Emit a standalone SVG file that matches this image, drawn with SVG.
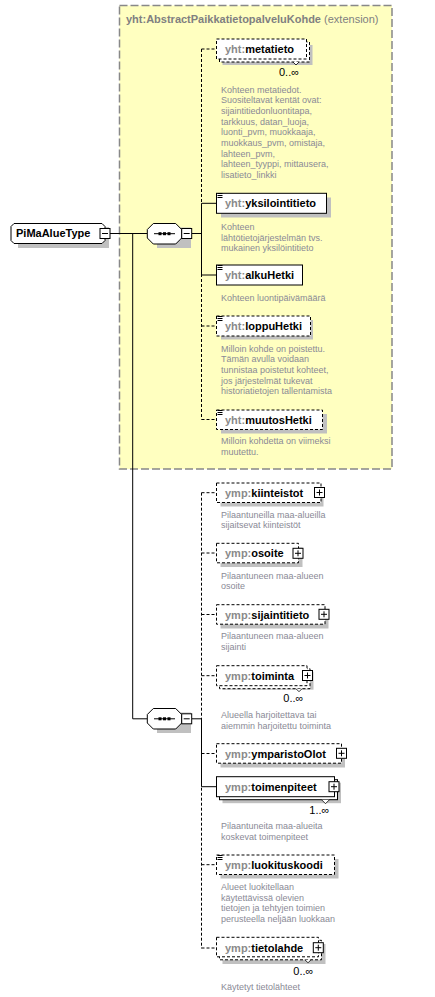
<svg xmlns="http://www.w3.org/2000/svg" width="435" height="997" viewBox="0 0 435 997">
<style>
text{font-family:"Liberation Sans",Arial,sans-serif}
.nm{font-size:11px;font-weight:bold;fill:#000}
.px{fill:#8a8a8a}
.ds{font-size:9px;fill:#8a8a96}
.oc{font-size:11px;fill:#000}
.sh{fill:#c0c0c0}
.bx{fill:#fff;stroke:#000;stroke-width:1}
.dbx{fill:#fff;stroke:#000;stroke-width:1;stroke-dasharray:3,2}
.ln{stroke:#000;stroke-width:1;fill:none}
.dl{stroke:#000;stroke-width:1;fill:none;stroke-dasharray:3,2}
.ic{stroke:#000;stroke-width:1}
</style>
<defs>
<g id="plus"><rect x="0" y="0" width="10" height="10" fill="#fff" stroke="#000"/><path d="M2,5H8M5,2V8" stroke="#000"/></g>
<g id="minus"><rect x="0" y="0" width="10" height="10" fill="#fff" stroke="#000"/><path d="M2,5H8" stroke="#000"/></g>
<g id="eq"><path d="M0.5,0.5H5.5M0.5,2.5H5.5M0.5,4.5H5.5" stroke="#000" stroke-width="1"/></g>
</defs>

<g id="ext">
<rect x="119.5" y="5.5" width="272.5" height="463.5" fill="#ffffc0" stroke="#888" stroke-width="1.5" stroke-dasharray="8,3"/>
<text x="126" y="22.5" font-size="11px"><tspan font-weight="bold" fill="#808080">yht:AbstractPaikkatietopalveluKohde</tspan><tspan fill="#808080"> (extension)</tspan></text>
</g>

<g id="connectors">
<path class="ln" d="M110,233.5H147.3M191.7,233.5H201.5M132.7,233.5V718.8H147.3M191.7,718.8H201.5"/>
<path class="dl" d="M201.5,49V419.5M201.5,49H216.5M201.5,326H216.5M201.5,419.5H216.5"/>
<path class="ln" d="M201.5,203.3V275M201.5,203.3H216.5M201.5,275H216.5"/>
<path class="dl" d="M201.5,492.7V948.3M201.5,492.7H216.5M201.5,553H216.5M201.5,614.5H216.5M201.5,675.7H216.5M201.5,753.5H216.5M201.5,864.7H216.5M201.5,948H216.5"/>
<path class="ln" d="M201.5,718.8V786.7H216.5"/>
</g>

<g id="PiMaAlueType">
<polygon class="sh" points="18,227 109,227 109,248 18,248"/>
<polygon class="bx" points="14,223.5 102,223.5 105,226.5 105,240.5 102,243.5 14,243.5 11,240.5 11,226.5"/>
<text class="nm" x="16" y="237">PiMaAlueType</text>
<use href="#minus" x="100" y="228.5"/>
</g>

<g id="seq1">
<polygon class="sh" points="157,227.5 191,227.5 191,248 157,248"/>
<polygon class="bx" points="153.3,223.5 175.7,223.5 181.7,229.5 181.7,238 175.7,244 153.3,244 147.3,238 147.3,229.5"/>
<path class="ic" d="M154,233.7H175"/>
<rect x="158.5" y="232.2" width="3" height="3"/><rect x="163" y="232.2" width="3" height="3"/><rect x="167.5" y="232.2" width="3" height="3"/>
<use href="#minus" x="181.7" y="228.5"/>
</g>

<g id="seq2">
<polygon class="sh" points="157,712.5 191,712.5 191,733 157,733"/>
<polygon class="bx" points="153.3,708.5 175.7,708.5 181.7,714.5 181.7,723 175.7,729 153.3,729 147.3,723 147.3,714.5"/>
<path class="ic" d="M154,718.8H175"/>
<rect x="158.5" y="717.3" width="3" height="3"/><rect x="163" y="717.3" width="3" height="3"/><rect x="167.5" y="717.3" width="3" height="3"/>
<use href="#minus" x="181.7" y="713.8"/>
</g>

<g id="metatieto">
<rect class="sh" x="222.5" y="45" width="90" height="20"/>
<rect class="dbx" x="219.5" y="42" width="90" height="20"/>
<rect class="dbx" x="216.5" y="39" width="90" height="20"/>
<path d="M293,62l3,3 3,-3" fill="#fff" stroke="#000" stroke-width="0.8"/>
<text class="nm" x="225" y="52.5"><tspan class="px">yht:</tspan>metatieto</text>
<text class="oc" x="279" y="75.5">0..∞</text>
<text class="ds" x="221"><tspan x="221" y="92.5">Kohteen metatiedot.</tspan><tspan x="221" y="103.2">Suositeltavat kentät ovat:</tspan><tspan x="221" y="113.9">sijaintitiedonluontitapa,</tspan><tspan x="221" y="124.6">tarkkuus, datan_luoja,</tspan><tspan x="221" y="135.3">luonti_pvm, muokkaaja,</tspan><tspan x="221" y="146">muokkaus_pvm, omistaja,</tspan><tspan x="221" y="156.7">lahteen_pvm,</tspan><tspan x="221" y="167.4">lahteen_tyyppi, mittausera,</tspan><tspan x="221" y="178.1">lisatieto_linkki</tspan></text>
</g>

<g id="yksilointitieto">
<rect class="sh" x="221" y="197.5" width="110" height="20"/>
<rect class="bx" x="216.5" y="193.3" width="110" height="20"/>
<use href="#eq" x="217" y="193"/>
<text class="nm" x="225" y="207"><tspan class="px">yht:</tspan>yksilointitieto</text>
<text class="ds"><tspan x="221" y="230">Kohteen</tspan><tspan x="221" y="240.7">lähtötietojärjestelmän  tvs.</tspan><tspan x="221" y="251.4">mukainen yksilöintitieto</tspan></text>
</g>

<g id="alkuHetki">
<rect class="bx" x="216.5" y="265" width="86" height="20"/>
<use href="#eq" x="217" y="265"/>
<text class="nm" x="225" y="278.5"><tspan class="px">yht:</tspan>alkuHetki</text>
<text class="ds" x="221" y="300.5">Kohteen luontipäivämäärä</text>
</g>

<g id="loppuHetki">
<rect class="sh" x="221" y="320" width="92" height="19.5"/>
<rect class="dbx" x="216.5" y="316" width="94" height="20"/>
<use href="#eq" x="217" y="316"/>
<text class="nm" x="225" y="329.5"><tspan class="px">yht:</tspan>loppuHetki</text>
<text class="ds"><tspan x="221" y="351.5">Milloin kohde on poistettu.</tspan><tspan x="221" y="362.2">Tämän avulla voidaan</tspan><tspan x="221" y="372.9">tunnistaa poistetut kohteet,</tspan><tspan x="221" y="383.6">jos järjestelmät tukevat</tspan><tspan x="221" y="394.3">historiatietojen tallentamista</tspan></text>
</g>

<g id="muutosHetki">
<rect class="sh" x="221" y="414" width="106" height="19.5"/>
<rect class="dbx" x="216.5" y="410" width="106" height="19.5"/>
<use href="#eq" x="217" y="410"/>
<text class="nm" x="225" y="423.5"><tspan class="px">yht:</tspan>muutosHetki</text>
<text class="ds"><tspan x="221" y="444">Milloin kohdetta on viimeksi</tspan><tspan x="221" y="454.7">muutettu.</tspan></text>
</g>

<g id="kiinteistot">
<rect class="sh" x="220.5" y="487" width="103" height="19.5"/>
<rect class="dbx" x="216.5" y="483" width="104.5" height="19.5"/>
<use href="#plus" x="314.5" y="487.5"/>
<text class="nm" x="225" y="496.5"><tspan class="px">ymp:</tspan>kiinteistot</text>
<text class="ds"><tspan x="221" y="517.5">Pilaantuneilla maa-alueilla</tspan><tspan x="221" y="528.2">sijaitsevat kiinteistöt</tspan></text>
</g>

<g id="osoite">
<rect class="sh" x="220.5" y="547.5" width="82" height="19.5"/>
<rect class="dbx" x="216.5" y="543.3" width="82" height="19.5"/>
<use href="#plus" x="293" y="548.3"/>
<text class="nm" x="225" y="557"><tspan class="px">ymp:</tspan>osoite</text>
<text class="ds"><tspan x="221" y="578.5">Pilaantuneen maa-alueen</tspan><tspan x="221" y="589.2">osoite</tspan></text>
</g>

<g id="sijaintitieto">
<rect class="sh" x="220.5" y="609" width="108" height="19.5"/>
<rect class="dbx" x="216.5" y="604.7" width="108.5" height="19.5"/>
<use href="#plus" x="319" y="609.3"/>
<text class="nm" x="225" y="618.5"><tspan class="px">ymp:</tspan>sijaintitieto</text>
<text class="ds"><tspan x="221" y="639">Pilaantuneen maa-alueen</tspan><tspan x="221" y="649.7">sijainti</tspan></text>
</g>

<g id="toiminta">
<rect class="sh" x="222.5" y="671.7" width="91" height="18"/>
<rect class="dbx" x="219.5" y="668.7" width="90.5" height="20"/>
<rect class="dbx" x="216.5" y="665.7" width="90.5" height="20"/>
<path d="M296,688.7l3,3 3,-3" fill="#fff" stroke="#000" stroke-width="0.8"/>
<use href="#plus" x="302.5" y="670.5"/>
<text class="nm" x="225" y="679.5"><tspan class="px">ymp:</tspan>toiminta</text>
<text class="oc" x="283.3" y="702">0..∞</text>
<text class="ds"><tspan x="221" y="718">Alueella harjoitettava tai</tspan><tspan x="221" y="728.7">aiemmin harjoitettu toiminta</tspan></text>
</g>

<g id="ymparistoOlot">
<rect class="sh" x="220.5" y="748" width="124.5" height="19.5"/>
<rect class="dbx" x="216.5" y="743.7" width="125" height="19.5"/>
<use href="#plus" x="336.5" y="748.3"/>
<text class="nm" x="225" y="757.5"><tspan class="px">ymp:</tspan>ymparistoOlot</text>
</g>

<g id="toimenpiteet">
<rect class="sh" x="222.5" y="782.7" width="118.5" height="20.5"/>
<rect class="bx" x="219.5" y="779.7" width="118" height="20"/>
<rect class="bx" x="216.5" y="776.7" width="118" height="20"/>
<path d="M321.5,799.7l4,4 4,-4" fill="#fff" stroke="#000" stroke-width="0.8"/>
<use href="#plus" x="329" y="781.7"/>
<text class="nm" x="225" y="790.5"><tspan class="px">ymp:</tspan>toimenpiteet</text>
<text class="oc" x="309.3" y="814" fill="#200030">1..∞</text>
<text class="ds"><tspan x="221" y="829">Pilaantuneita maa-alueita</tspan><tspan x="221" y="839.7">koskevat toimenpiteet</tspan></text>
</g>

<g id="luokituskoodi">
<rect class="sh" x="220.5" y="859" width="118" height="19.5"/>
<rect class="dbx" x="216.5" y="855" width="118" height="19.5"/>
<use href="#eq" x="217" y="855"/>
<text class="nm" x="225" y="868.5"><tspan class="px">ymp:</tspan>luokituskoodi</text>
<text class="ds"><tspan x="221" y="890">Alueet luokitellaan</tspan><tspan x="221" y="900.7">käytettävissä olevien</tspan><tspan x="221" y="911.4">tietojen ja tehtyjen toimien</tspan><tspan x="221" y="922.1">perusteella neljään luokkaan</tspan></text>
</g>

<g id="tietolahde">
<rect class="sh" x="222.5" y="944" width="103" height="20"/>
<rect class="dbx" x="219.5" y="940.3" width="102" height="19.5"/>
<rect class="dbx" x="216.5" y="937.3" width="102" height="19.5"/>
<path d="M305,959.8l3,3 3,-3" fill="#fff" stroke="#000" stroke-width="0.8"/>
<use href="#plus" x="313.3" y="942.7"/>
<text class="nm" x="225" y="951.5"><tspan class="px">ymp:</tspan>tietolahde</text>
<text class="oc" x="293.3" y="974.5">0..∞</text>
<text class="ds" x="221" y="990">Käytetyt tietolähteet</text>
</g>
</svg>
